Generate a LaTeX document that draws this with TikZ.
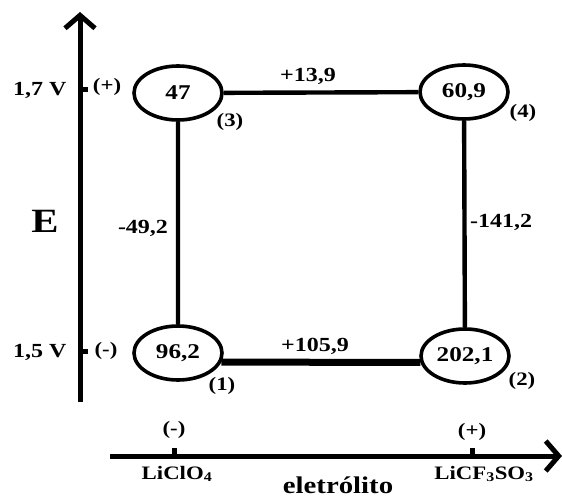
\documentclass[tikz,border=0pt]{standalone}
\usepackage{fontspec}
\setmainfont{Liberation Serif}[FakeStretch=1.2]
\usetikzlibrary{arrows.meta,shapes.geometric}
\begin{document}
\begin{tikzpicture}[x=1pt,y=-1pt, line join=round, font=\bfseries,
	estado/.style={draw, ellipse, line width=3.6pt, inner sep=0pt, minimum width=88pt, minimum height=54pt, font=\bfseries\fontsize{21}{21}\selectfont},
	lado/.style={line width=4.4pt},
	eixo/.style={line width=5pt, -{Straight Barb[length=13pt,width=30pt]}},
	rotulo/.style={font=\bfseries\fontsize{20}{20}\selectfont},
	marca/.style={font=\bfseries\fontsize{19}{19}\selectfont}]
	\useasboundingbox (0,0) rectangle (562,497);
	\path
	(80,402) coordinate (Ea)
	(80,12) coordinate (Eb)
	(110,456) coordinate (Xa)
	(562,456) coordinate (Xb)
	(80,90) coordinate (T7)
	(80,351) coordinate (T5)
	(174,456) coordinate (Tc)
	(472,456) coordinate (Tf)
	;
	% eixos
	\draw[eixo] (Ea)--(Eb);
	\draw[eixo] (Xa)--(Xb);
	\draw[line width=5pt] (T7)--++(8,0) (T5)--++(8,0) (Tc)--++(0,-8) (Tf)--++(0,-8);
	\node[rotulo,anchor=east] (v7) at (70,90) {1,7 V};
	\node[rotulo,anchor=east] (v5) at (70,352) {1,5 V};
	\node[marca] (p7) at (107,87) {(+)};
	\node[marca] (m5) at (106,351) {(-)};
	\node[font=\bfseries\fontsize{34}{34}\selectfont] (E) at (45,221) {E};
	\node[marca] (mc) at (174,430) {(-)};
	\node[marca] (pf) at (472,432) {(+)};
	\node[marca] (sc) at (177,474) {LiClO\textsubscript{4}};
	\node[marca] (sf) at (484,474) {LiCF\textsubscript{3}SO\textsubscript{3}};
	\node[font=\bfseries\fontsize{24}{24}\selectfont,anchor=base,inner sep=1pt] (el) at (338,493) {eletrólito};
	% estados
	\node[estado] (n3) at (178,93) {47};
	\node[estado] (n4) at (464,92) {60,9};
	\node[estado] (n1) at (178,353) {96,2};
	\node[estado] (n2) at (465,356) {202,1};
	\foreach \k/\q in {3/{(230,122)},4/{(523,113)},1/{(222,386)},2/{(522,381)}}
	\node[marca] (r\k) at \q {(\k)};
	% ligacoes
	\draw[lado] (n3)--(n4) (n3)--(n1) (n4)--(n2);
	\draw[lado,line width=7pt] (n1.-12)--(n2.188);
	\node[rotulo] (a34) at (308,76) {+13,9};
	\node[rotulo] (a12) at (315,346) {+105,9};
	\node[rotulo] (a31) at (143,228) {-49,2};
	\node[rotulo] (a42) at (501,222) {-141,2};
\end{tikzpicture}
\end{document}
